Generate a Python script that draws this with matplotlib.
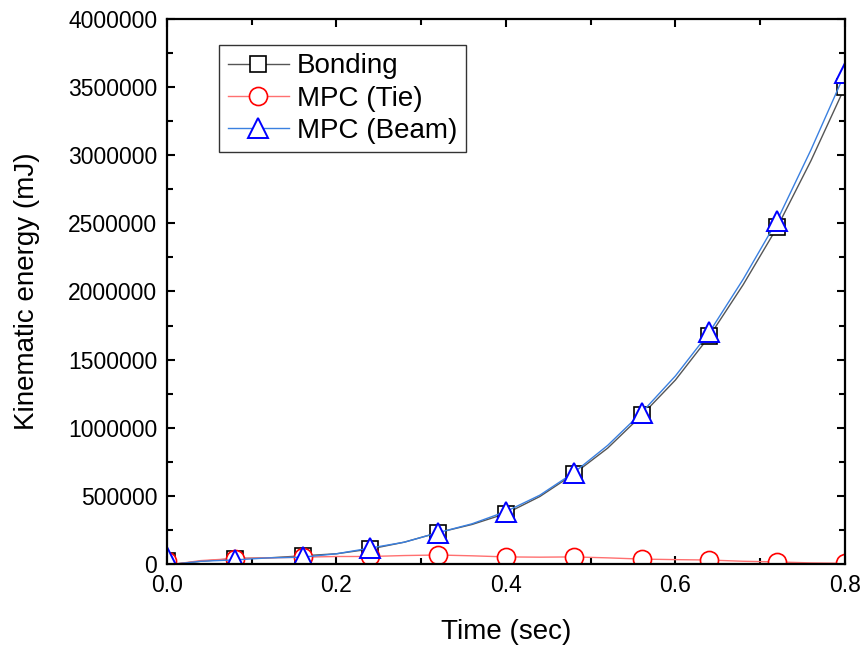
import matplotlib
matplotlib.use('Agg')
import matplotlib.pyplot as plt
from matplotlib.ticker import MultipleLocator
import numpy as np

# time points (sec); markers only on the 0.08 grid
time = [0.0, 0.01, 0.04, 0.08, 0.12, 0.16, 0.20, 0.24, 0.28, 0.32, 0.36, 0.40,
        0.44, 0.48, 0.52, 0.56, 0.60, 0.64, 0.68, 0.72, 0.76, 0.80]
bonding = [25000, 0, 20000, 40000, 45000, 60000, 75000, 110000, 160000, 230000, 290000, 370000,
           495000, 660000, 850000, 1090000, 1350000, 1670000, 2050000, 2470000, 2960000, 3500000]
mpc_tie = [20000, 0, 25000, 40000, 45000, 50000, 55000, 55000, 62000, 66000, 60000, 52000,
           50000, 52000, 45000, 36000, 32000, 29000, 20000, 15000, 8000, 5000]
mpc_beam = [50000, 0, 20000, 30000, 45000, 50000, 75000, 117000, 160000, 230000, 295000, 385000,
            505000, 670000, 870000, 1110000, 1380000, 1700000, 2090000, 2520000, 3040000, 3600000]

t = np.array(time)
marks = [i for i, v in enumerate(t) if abs(v / 0.08 - round(v / 0.08)) < 1e-6]

plt.rcParams['font.family'] = ['Liberation Sans', 'DejaVu Sans']

fig = plt.figure(figsize=(8.63, 6.45), dpi=100)
ax = fig.add_axes([0.1935, 0.1256, 0.7855, 0.845])

ax.plot(t, bonding, color='#555555', lw=1.0, marker='s', ms=11, mfc='white',
        mec='black', mew=1.2, markevery=marks, label='Bonding')
ax.plot(t, mpc_tie, color='#ff7070', lw=1.0, marker='o', ms=13, mfc='white',
        mec='red', mew=1.2, markevery=marks, label='MPC (Tie)')
ax.plot(t, mpc_beam, color='#3a80e0', lw=1.0, marker='^', ms=15, mfc='white',
        mec='blue', mew=1.4, markevery=marks, label='MPC (Beam)')

ax.set_xlim(0, 0.8)
ax.set_ylim(0, 4000000)
ax.xaxis.set_major_locator(MultipleLocator(0.2))
ax.xaxis.set_minor_locator(MultipleLocator(0.1))
ax.yaxis.set_major_locator(MultipleLocator(500000))
ax.yaxis.set_minor_locator(MultipleLocator(250000))
ax.xaxis.set_major_formatter(matplotlib.ticker.FormatStrFormatter('%.1f'))
ax.yaxis.set_major_formatter(matplotlib.ticker.FormatStrFormatter('%d'))
ax.tick_params(which='both', direction='in', top=True, right=True, width=1.5, labelsize=16.5)
ax.tick_params(which='major', length=6)
ax.tick_params(which='minor', length=4)
ax.tick_params(axis='x', pad=7)
ax.tick_params(axis='y', pad=7)
for s in ax.spines.values():
    s.set_linewidth(1.6)

ax.set_xlabel('Time (sec)', fontsize=20, labelpad=16)
ax.set_ylabel('Kinematic energy (mJ)', fontsize=20, labelpad=20)

leg = ax.legend(loc='upper left', bbox_to_anchor=(0.077, 0.952), borderaxespad=0,
                fontsize=20, frameon=True, fancybox=False, handlelength=2.2,
                handletextpad=0.3, labelspacing=0.22, borderpad=0.3)
leg.get_frame().set_edgecolor('black')
leg.get_frame().set_linewidth(1.0)

fig.savefig('out.png', dpi=100)
